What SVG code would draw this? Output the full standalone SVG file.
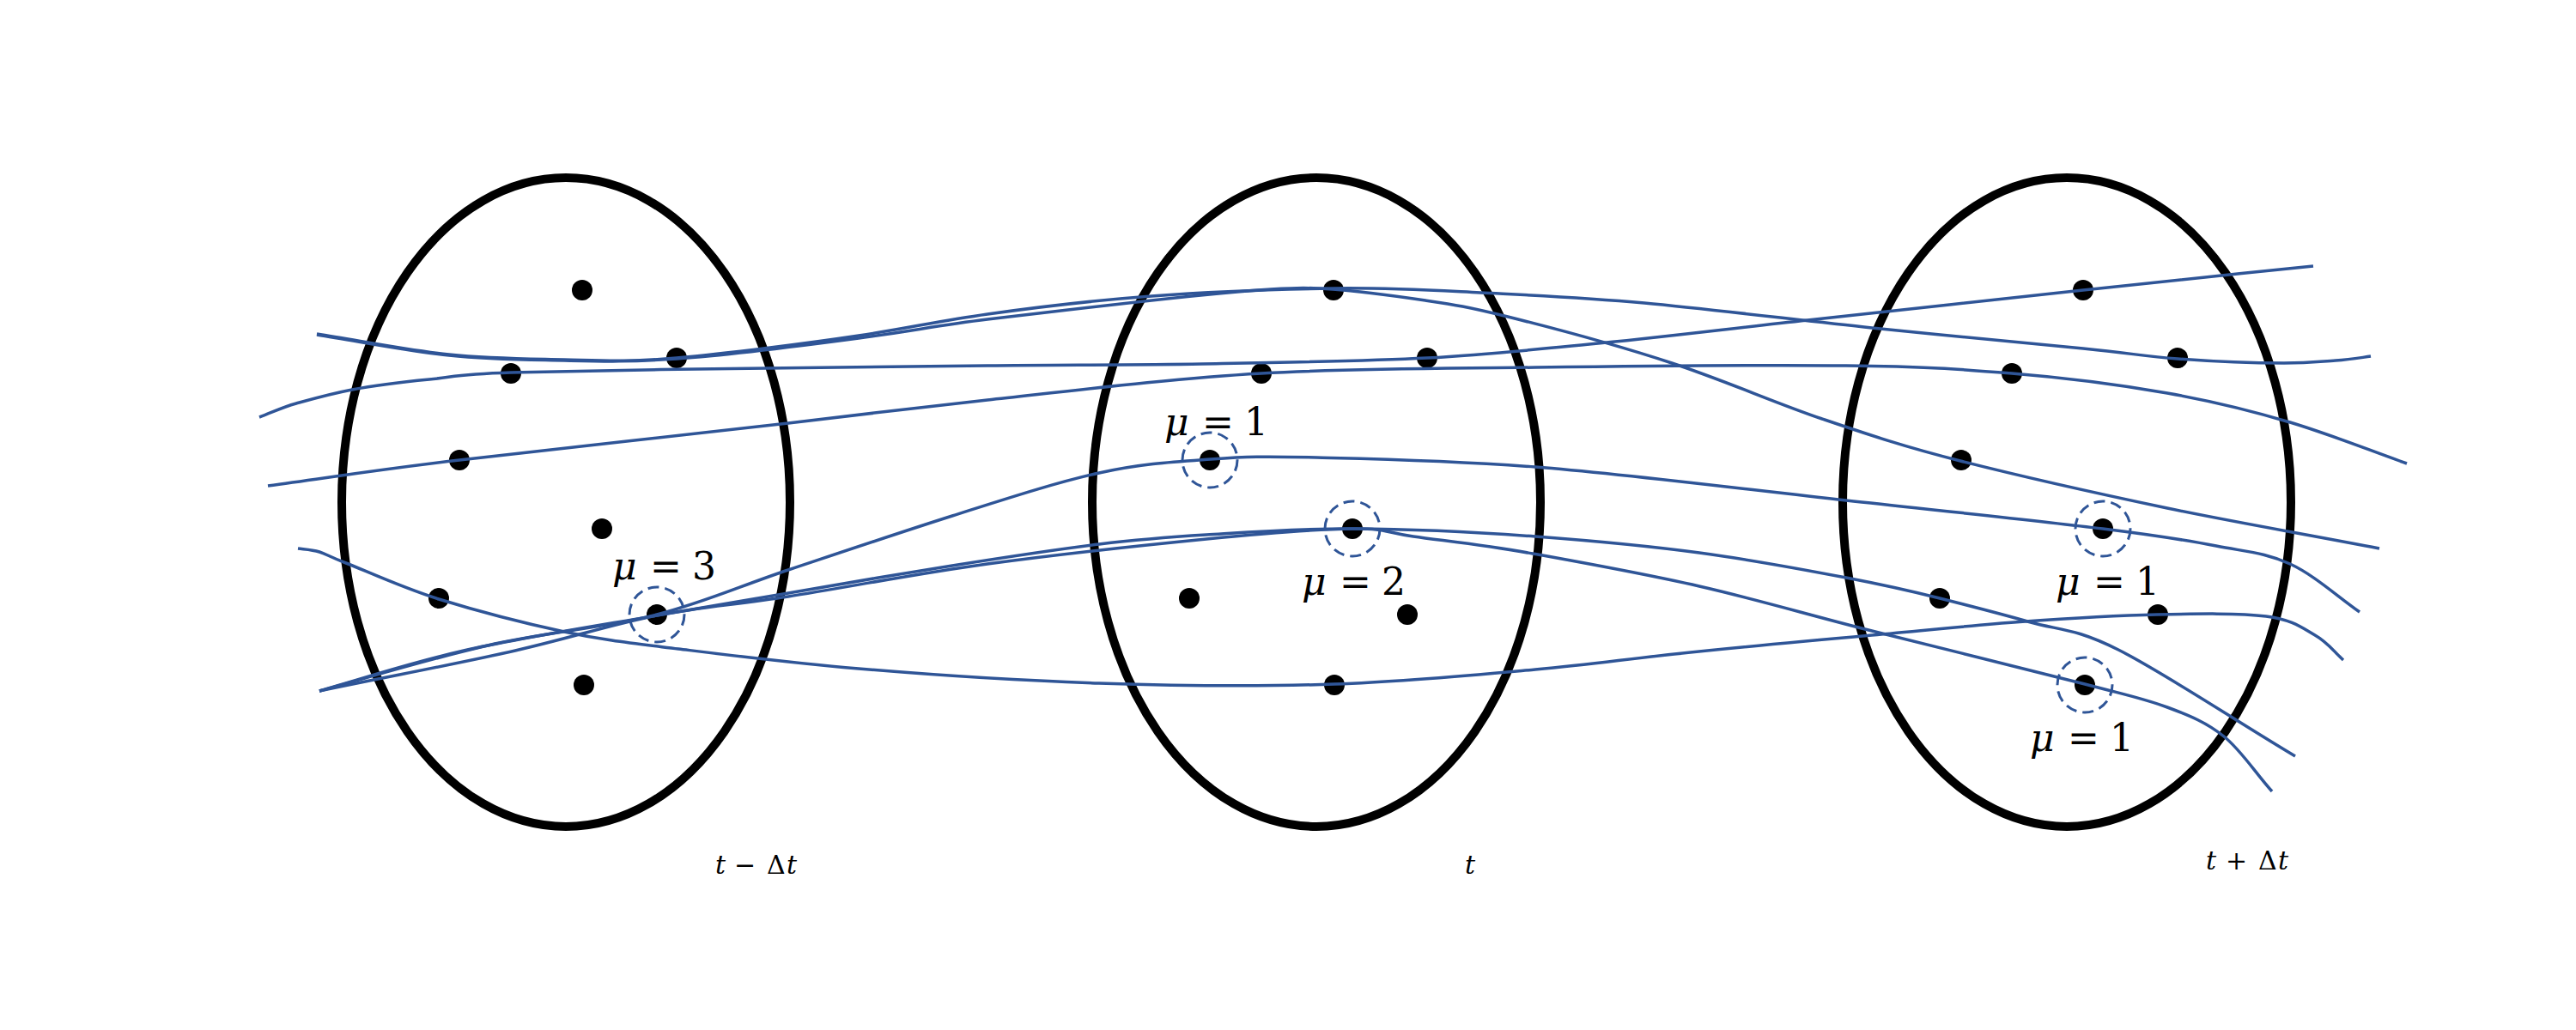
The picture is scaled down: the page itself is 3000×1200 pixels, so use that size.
<svg xmlns="http://www.w3.org/2000/svg" width="3000" height="1200" viewBox="0 0 3000 1200">
<style>
.slice{fill:none;stroke:#000;stroke-width:10}
.dot{fill:#000}
.ring{fill:none;stroke:#2F5597;stroke-width:3;stroke-dasharray:13 7}
.traj{fill:none;stroke:#2F5597;stroke-width:3.5;stroke-linecap:butt}
.mu{font-family:"DejaVu Serif","Liberation Serif",serif;font-size:44px;fill:#000}
.tl{font-family:"DejaVu Serif","Liberation Serif",serif;font-size:30px;fill:#000}
.it{font-style:italic}
</style>
<rect width="3000" height="1200" fill="#fff"/>
<g id="slice-t-minus">
<ellipse class="slice" cx="659" cy="585" rx="261" ry="378"/>
<circle class="dot" cx="678" cy="338" r="12"/>
<circle class="dot" cx="788" cy="417" r="12"/>
<circle class="dot" cx="595" cy="435" r="12"/>
<circle class="dot" cx="535" cy="536" r="12"/>
<circle class="dot" cx="701" cy="616" r="12"/>
<circle class="dot" cx="511" cy="697" r="12"/>
<circle class="dot" cx="765" cy="716" r="12"/>
<circle class="dot" cx="680" cy="798" r="12"/>
<circle class="ring" cx="765" cy="716" r="32"/>
<text class="mu" y="675"><tspan class="it" x="713">μ</tspan><tspan x="757">=</tspan><tspan x="806">3</tspan></text>
<text class="tl" y="1018"><tspan class="it" x="833">t</tspan><tspan x="855">−</tspan><tspan x="893">Δ</tspan><tspan class="it" x="916">t</tspan></text>
</g>
<g id="slice-t">
<ellipse class="slice" cx="1533" cy="585" rx="261" ry="378"/>
<circle class="dot" cx="1553" cy="338" r="12"/>
<circle class="dot" cx="1662" cy="417" r="12"/>
<circle class="dot" cx="1469" cy="435" r="12"/>
<circle class="dot" cx="1409" cy="536" r="12"/>
<circle class="dot" cx="1575" cy="616" r="12"/>
<circle class="dot" cx="1385" cy="697" r="12"/>
<circle class="dot" cx="1639" cy="716" r="12"/>
<circle class="dot" cx="1554" cy="798" r="12"/>
<circle class="ring" cx="1409" cy="536" r="32"/>
<circle class="ring" cx="1575" cy="616" r="32"/>
<text class="mu" y="507"><tspan class="it" x="1356">μ</tspan><tspan x="1400">=</tspan><tspan x="1449">1</tspan></text>
<text class="mu" y="693"><tspan class="it" x="1516">μ</tspan><tspan x="1560">=</tspan><tspan x="1609">2</tspan></text>
<text class="tl it" x="1706" y="1018">t</text>
</g>
<g id="slice-t-plus">
<ellipse class="slice" cx="2407" cy="585" rx="261" ry="378"/>
<circle class="dot" cx="2426" cy="338" r="12"/>
<circle class="dot" cx="2536" cy="417" r="12"/>
<circle class="dot" cx="2343" cy="435" r="12"/>
<circle class="dot" cx="2284" cy="536" r="12"/>
<circle class="dot" cx="2449" cy="616" r="12"/>
<circle class="dot" cx="2259" cy="697" r="12"/>
<circle class="dot" cx="2513" cy="716" r="12"/>
<circle class="dot" cx="2428" cy="798" r="12"/>
<circle class="ring" cx="2449" cy="616" r="32"/>
<circle class="ring" cx="2428" cy="798" r="32"/>
<text class="mu" y="693"><tspan class="it" x="2394">μ</tspan><tspan x="2438">=</tspan><tspan x="2487">1</tspan></text>
<text class="mu" y="875"><tspan class="it" x="2364">μ</tspan><tspan x="2408">=</tspan><tspan x="2457">1</tspan></text>
<text class="tl" y="1013"><tspan class="it" x="2569">t</tspan><tspan x="2592">+</tspan><tspan x="2630">Δ</tspan><tspan class="it" x="2653">t</tspan></text>
</g>
<g id="trajectories">
<path class="traj" d="M369,389 C420,397 475,408 523,413 S613,418 657,419 S731,422 788,417 S940,400 1000,391 S1093,374 1150,366 S1274,350 1341,345 S1488,337 1552,336 S1663,338 1724,341 S1839,346 1915,353 S2095,373 2180,382 S2367,400 2426,406 S2497,415 2536,418 S2629,423 2660,423 S2703,421 2720,420 S2747,417 2761,415"/>
<path class="traj" d="M369,390 C420,398 475,409 523,414 S613,419 657,420 S731,422 788,418 S940,402 1000,394 S1093,379 1150,372 S1286,356 1341,350 S1445,339 1480,337 S1522,335 1552,337 S1626,345 1660,350 S1708,357 1756,369 S1886,403 1947,423 S2066,469 2122,488 S2216,520 2283,537 S2443,575 2524,592 S2689,623 2771,639"/>
<path class="traj" d="M302,486 C316,481 327,475 345,470 S384,459 410,454 S469,445 500,442 S530,436 595,434 S800,430 892,429 S1065,427 1150,426 S1315,425.5 1400,424 S1587,421 1662,417 S1777,408 1851,401 S2009,383.5 2105,373 S2328,348.5 2426,338 S2605,319 2694,310"/>
<path class="traj" d="M312,566 C386,556 434,548 535,536 S815.5,505 918,493 S1058,476 1150,466 S1363,441 1469,435 S1674.5,429.5 1788,428 S2057.5,425 2150,426 S2281,430 2343,435 S2470,448.5 2524,458 S2620.5,478 2667,492 S2758,524 2803,540"/>
<path class="traj" d="M347,639 C355,640 363,640 372,643 S380,647 403,656 S469,685 511,698 S610.5,726 657,736 S733,749 790,756 S918,772 1000,779 S1188,793 1280,796 S1469,800 1554,797 S1722,786 1788,780 S1885,769 1950,762 S2113,746 2180,740 S2297,728.5 2352,724.5 S2464,717 2512,716 S2608,714 2639,718 S2681,731.5 2696,740 S2718,759 2729,769"/>
<path class="traj" d="M372,805 C437,787 502.5,767 568,752 S707,731 765,716 S861,683 918,664 S1049,620 1109,601 S1230,562 1280,551 S1368,538 1410,535 S1470,531.5 1533,533 S1685,536 1788,544 S2040,571 2150,583 S2377,607 2449,616 S2545,629 2581,636 S2639,644 2667,657 S2721,694 2748,713"/>
<path class="traj" d="M372,805 C428,789 474.5,773 540,758 S702,728 765,717 S861,701 918,691 S1049,668.5 1109,659 S1231,640 1280,634 S1356,626 1405,623 S1511,615.7 1575,616 S1721,620 1788,625 S1919,636 1979,644 S2103,664 2150,673 S2223.5,688 2259,697 S2328,714.5 2363,724.5 S2415,731 2467,757 S2604,840 2673,881"/>
<path class="traj" d="M372,805 C448,789 534.5,773 600,758 S712,727.5 765,717 S854,705 918,695 S1069,668 1150,657 S1334,635 1405,628 S1535,616.5 1575,616 S1611,620 1646,625 S1729.5,635 1785,645 S1913,668 1979,683 S2105,716 2180,735 S2371,782 2428,797 S2497,814 2524,824 S2570,842 2590,858 S2627,901 2646,922"/>
</g>
</svg>
